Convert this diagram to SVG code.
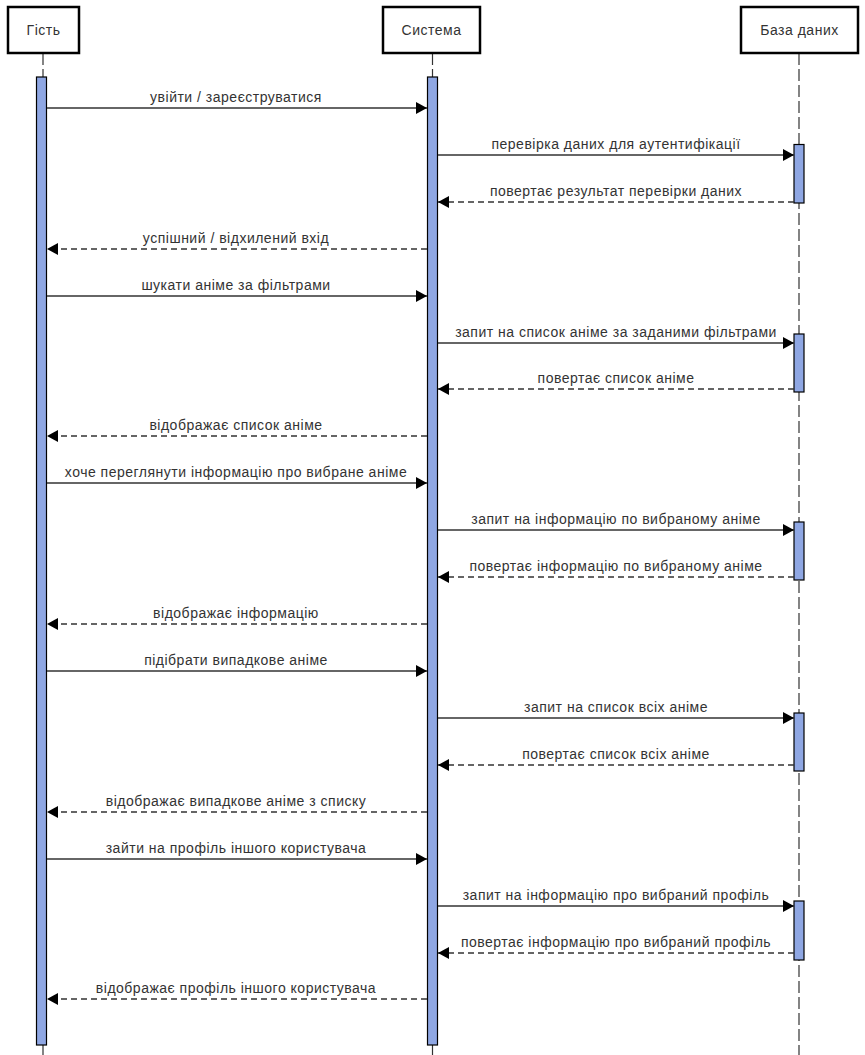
<svg xmlns="http://www.w3.org/2000/svg" width="865" height="1055" viewBox="0 0 865 1055">
  <style>
    .actor { fill: #ffffff; stroke: #000000; stroke-width: 2.5; }
    .actor-label { font-family: "Liberation Sans", Arial, sans-serif; font-size: 14px; letter-spacing: 0.5px; fill: #333333; text-anchor: middle; }
    .lifeline { stroke: #333333; stroke-width: 1.2; stroke-dasharray: 12 4; fill: none; }
    .bar { fill: #8FA7E3; stroke: #000000; stroke-width: 1.2; }
    .msg { stroke: #333333; stroke-width: 1.5; fill: none; marker-end: url(#arrow); }
    .ret { stroke: #333333; stroke-width: 1.5; fill: none; stroke-dasharray: 6 4; marker-end: url(#arrow); }
    .label { font-family: "Liberation Sans", Arial, sans-serif; font-size: 14px; letter-spacing: 0.5px; fill: #333333; text-anchor: middle; }
  </style>
  <defs>
    <marker id="arrow" markerUnits="userSpaceOnUse" markerWidth="12" markerHeight="13" refX="11" refY="6.5" orient="auto">
      <path d="M0,0.5 L11,6.5 L0,12.5 Z" fill="#000000"/>
    </marker>
  </defs>
  <rect width="865" height="1055" fill="#ffffff"/>

  <!-- lifelines -->
  <g id="lifelines">
    <line class="lifeline" x1="43" y1="53" x2="43" y2="1055"/>
    <line class="lifeline" x1="432.5" y1="53" x2="432.5" y2="1055"/>
    <line class="lifeline" x1="799" y1="53" x2="799" y2="1055"/>
  </g>

  <!-- participants -->
  <g id="guest">
    <rect class="actor" x="8" y="7" width="71" height="46"/>
    <text class="actor-label" x="43.5" y="35">Гість</text>
    <rect class="bar" x="36.5" y="77" width="10" height="968"/>
  </g>
  <g id="system">
    <rect class="actor" x="383" y="7" width="97" height="46"/>
    <text class="actor-label" x="431.5" y="35">Система</text>
    <rect class="bar" x="427.5" y="77" width="10" height="968"/>
  </g>
  <g id="database">
    <rect class="actor" x="741" y="7" width="117" height="46"/>
    <text class="actor-label" x="799.5" y="35">База даних</text>
    <rect class="bar" x="794" y="144.5" width="10" height="58.5"/>
    <rect class="bar" x="794" y="334" width="10" height="58"/>
    <rect class="bar" x="794" y="522" width="10" height="58"/>
    <rect class="bar" x="794" y="713" width="10" height="58"/>
    <rect class="bar" x="794" y="901" width="10" height="59"/>
  </g>

  <!-- messages -->
  <g id="connectors">
    <line class="msg" x1="47" y1="108" x2="427" y2="108"/>
    <text class="label" x="236" y="102">увійти / зареєструватися</text>

    <line class="msg" x1="438" y1="155" x2="794" y2="155"/>
    <text class="label" x="616" y="149">перевірка даних для аутентифікації</text>

    <line class="ret" x1="794" y1="202" x2="438" y2="202"/>
    <text class="label" x="616" y="196">повертає результат перевірки даних</text>

    <line class="ret" x1="427" y1="249" x2="47" y2="249"/>
    <text class="label" x="236" y="243">успішний / відхилений вхід</text>

    <line class="msg" x1="47" y1="296" x2="427" y2="296"/>
    <text class="label" x="236" y="290">шукати аніме за фільтрами</text>

    <line class="msg" x1="438" y1="343" x2="794" y2="343"/>
    <text class="label" x="616" y="337">запит на список аніме за заданими фільтрами</text>

    <line class="ret" x1="794" y1="389" x2="438" y2="389"/>
    <text class="label" x="616" y="383">повертає список аніме</text>

    <line class="ret" x1="427" y1="436" x2="47" y2="436"/>
    <text class="label" x="236" y="430">відображає список аніме</text>

    <line class="msg" x1="47" y1="483" x2="427" y2="483"/>
    <text class="label" x="236" y="477">хоче переглянути інформацію про вибране аніме</text>

    <line class="msg" x1="438" y1="530" x2="794" y2="530"/>
    <text class="label" x="616" y="524">запит на інформацію по вибраному аніме</text>

    <line class="ret" x1="794" y1="577" x2="438" y2="577"/>
    <text class="label" x="616" y="571">повертає інформацію по вибраному аніме</text>

    <line class="ret" x1="427" y1="624" x2="47" y2="624"/>
    <text class="label" x="236" y="618">відображає інформацію</text>

    <line class="msg" x1="47" y1="671" x2="427" y2="671"/>
    <text class="label" x="236" y="665">підібрати випадкове аніме</text>

    <line class="msg" x1="438" y1="718" x2="794" y2="718"/>
    <text class="label" x="616" y="712">запит на список всіх аніме</text>

    <line class="ret" x1="794" y1="765" x2="438" y2="765"/>
    <text class="label" x="616" y="759">повертає список всіх аніме</text>

    <line class="ret" x1="427" y1="812" x2="47" y2="812"/>
    <text class="label" x="236" y="806">відображає випадкове аніме з списку</text>

    <line class="msg" x1="47" y1="859" x2="427" y2="859"/>
    <text class="label" x="236" y="853">зайти на профіль іншого користувача</text>

    <line class="msg" x1="438" y1="906" x2="794" y2="906"/>
    <text class="label" x="616" y="900">запит на інформацію про вибраний профіль</text>

    <line class="ret" x1="794" y1="953" x2="438" y2="953"/>
    <text class="label" x="616" y="947">повертає інформацію про вибраний профіль</text>

    <line class="ret" x1="427" y1="999" x2="47" y2="999"/>
    <text class="label" x="236" y="993">відображає профіль іншого користувача</text>
  </g>
</svg>
